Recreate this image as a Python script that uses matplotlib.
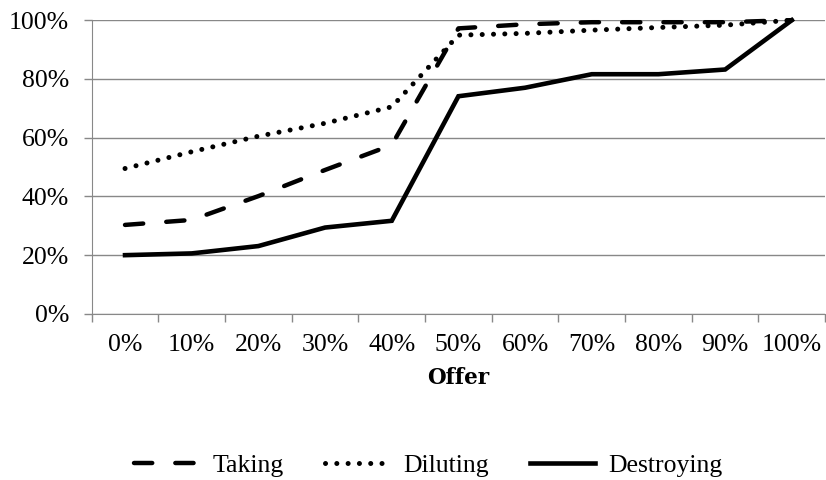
import matplotlib
matplotlib.use("Agg")
import matplotlib.pyplot as plt
from matplotlib.ticker import FixedLocator, PercentFormatter

offers = ["0%", "10%", "20%", "30%", "40%", "50%", "60%", "70%", "80%", "90%", "100%"]
taking = [30.3, 32.0, 40.1, 49.0, 57.5, 97.2, 98.6, 99.3, 99.3, 99.3, 100.0]
diluting = [49.5, 55.2, 60.5, 64.9, 70.5, 94.9, 95.5, 96.6, 97.5, 98.3, 100.0]
destroying = [20.0, 20.6, 23.1, 29.4, 31.7, 74.1, 77.0, 81.6, 81.6, 83.2, 100.0]

plt.rcParams['font.family'] = ['Liberation Serif', 'DejaVu Serif']

fig = plt.figure(figsize=(8.26, 4.8), dpi=100)
ax = fig.add_axes([0.111, 0.346, 0.888, 0.612])

x = range(len(offers))
ax.plot(x, taking, color='black', lw=3.2, dashes=(4.1, 5.2), dash_capstyle='round', label='Taking')
ax.plot(x, diluting, color='black', lw=3.6, dashes=(0.01, 2.25), dash_capstyle='round', label='Diluting')
ax.plot(x, destroying, color='black', lw=3.3, solid_joinstyle='miter', label='Destroying')

ax.set_xlim(-0.5, len(offers) - 0.5)
ax.set_ylim(0, 100)
ax.set_yticks([0, 20, 40, 60, 80, 100])
ax.yaxis.set_major_formatter(PercentFormatter(decimals=0))
ax.set_xticks(list(x))
ax.set_xticklabels(offers)
ax.xaxis.set_minor_locator(FixedLocator([i - 0.5 for i in range(len(offers) + 1)]))
ax.tick_params(axis='x', which='major', length=0, pad=14.5, labelsize=18.5)
ax.tick_params(axis='x', which='minor', length=5.5, color='#888888', width=1)
ax.tick_params(axis='y', length=5.8, color='#888888', width=1, labelsize=18.5, pad=10.5)
ax.yaxis.grid(True, color='#888888', lw=1)
ax.set_axisbelow(True)
for s in ['top', 'right']:
    ax.spines[s].set_visible(False)
for s in ['left', 'bottom']:
    ax.spines[s].set_color('#888888')
ax.set_xlabel('Offer', fontsize=15.5, fontweight='bold', labelpad=8, family=['DejaVu Serif'])
for ln in ax.lines:
    ln.set_clip_on(False)

fig.legend(loc='center', bbox_to_anchor=(0.519, 0.03), ncol=3, frameon=False, fontsize=18.5,
           handlelength=2.5, columnspacing=1.6, handletextpad=0.55)

fig.savefig('out.png', dpi=100)
